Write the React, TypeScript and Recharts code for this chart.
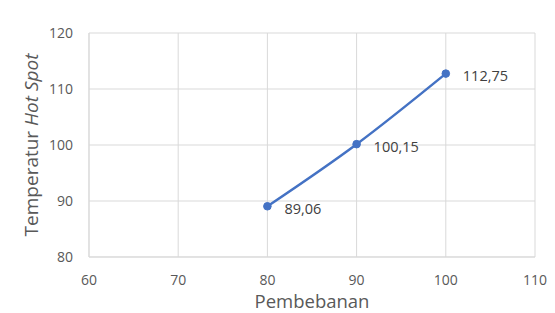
import React from "react";
import { LineChart, Line, XAxis, YAxis, CartesianGrid, LabelList } from "recharts";

const loads = [80, 90, 100];
const hotSpotTemps = [89.06, 100.15, 112.75];
const xTicks = [60, 70, 80, 90, 100, 110];
const yTicks = [80, 90, 100, 110, 120];

const data = loads.map((x, i) => ({ x, y: hotSpotTemps[i] }));

const FONT = "'Open Sans', sans-serif";
const GRAY = "#595959";

function ValueLabel(props: any) {
  const { x, y, value } = props;
  return (
    <text x={x + 17} y={y + 2} dominantBaseline="central" fill="#404040" fontSize={14.5} fontFamily={FONT}>
      {Number(value).toFixed(2).replace(".", ",")}
    </text>
  );
}

function XTitle(props: any) {
  const vb = props.viewBox;
  return (
    <text x={vb.x + vb.width / 2} y={vb.y + 51} textAnchor="middle" fill={GRAY} fontSize={18.5} fontFamily={FONT}>
      Pembebanan
    </text>
  );
}

function YTitle(props: any) {
  const vb = props.viewBox;
  const cy = vb.y + vb.height / 2;
  return (
    <text x={31} y={cy} transform={`rotate(-90, 31, ${cy})`} textAnchor="middle" fill={GRAY} fontSize={19} fontFamily={FONT}>
      Temperatur <tspan fontStyle="italic">Hot Spot</tspan>
    </text>
  );
}

export default function App() {
  return (
    <div
      style={{
        marginLeft: -2,
        marginTop: -1,
        width: 600,
        height: 320,
        borderTop: "1px solid #d9d9d9",
        borderLeft: "1px solid #d9d9d9",
        background: "#fff",
      }}
    >
      <LineChart width={548} height={305} data={data} margin={{ top: 25, right: 20, left: 0, bottom: 6 }}>
        <CartesianGrid stroke="#d9d9d9" strokeWidth={1} />
        <XAxis
          dataKey="x"
          type="number"
          domain={[60, 110]}
          ticks={xTicks}
          height={50}
          tickLine={false}
          tickSize={0}
          tickMargin={18}
          axisLine={{ stroke: "#d9d9d9" }}
          tick={{ fill: GRAY, fontSize: 14, fontFamily: FONT }}
          label={<XTitle />}
        />
        <YAxis
          type="number"
          domain={[80, 120]}
          ticks={yTicks}
          width={82}
          tickLine={false}
          tickSize={0}
          tickMargin={16}
          axisLine={{ stroke: "#d9d9d9" }}
          tick={{ fill: GRAY, fontSize: 14, fontFamily: FONT }}
          label={<YTitle />}
        />
        <Line
          dataKey="y"
          type="monotone"
          stroke="#4472C4"
          strokeWidth={2.5}
          dot={{ r: 3.8, fill: "#4472C4", stroke: "#4472C4", strokeWidth: 1 }}
          isAnimationActive={false}
        >
          <LabelList dataKey="y" content={<ValueLabel />} />
        </Line>
      </LineChart>
    </div>
  );
}
